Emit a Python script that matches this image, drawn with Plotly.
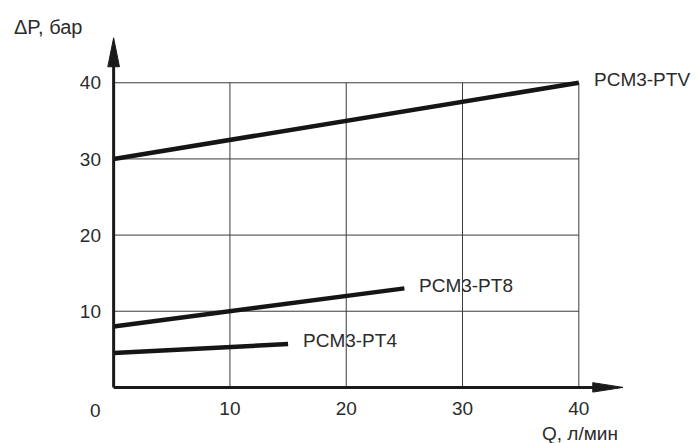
import plotly.graph_objects as go

# Data
series_names = ["PCM3-PTV", "PCM3-PT8", "PCM3-PT4"]
series_q = [[0, 40], [0, 25], [0, 15]]
series_dp = [[30, 40], [8, 13], [4.5, 5.7]]
x_ticks = [10, 20, 30, 40]
y_ticks = [10, 20, 30, 40]
x_title = "Q, л/мин"
y_title = "ΔP, бар"

FONT = "Liberation Sans, Arial, sans-serif"
TXT = "#2b2b2b"
LINE = "#151515"
FS = 19

fig = go.Figure()
for name, q, dp in zip(series_names, series_q, series_dp):
    fig.add_trace(go.Scatter(x=q, y=dp, mode="lines", name=name,
                             line=dict(color=LINE, width=4.5),
                             showlegend=False, hoverinfo="skip"))

shapes = []
gmax_x = max(x_ticks)
gmax_y = max(y_ticks)
for xv in x_ticks:
    shapes.append(dict(type="line", xref="x", yref="y", x0=xv, x1=xv, y0=0, y1=gmax_y,
                       line=dict(color="#3a3a3a", width=1), layer="below"))
for yv in y_ticks:
    shapes.append(dict(type="line", xref="x", yref="y", x0=0, x1=gmax_x, y0=yv, y1=yv,
                       line=dict(color="#3a3a3a", width=1), layer="below"))
# axes
shapes.append(dict(type="line", xref="x", yref="y", x0=0, x1=41.5, y0=0, y1=0,
                   line=dict(color="#1a1a1a", width=3)))
shapes.append(dict(type="line", xref="x", yref="y", x0=0, x1=0, y0=0, y1=42.5,
                   line=dict(color="#1a1a1a", width=3)))
# arrowheads
shapes.append(dict(type="path", xref="x", yref="y",
                   path="M 41.2 -0.62 L 43.8 0 L 41.2 0.62 Z",
                   fillcolor="#1a1a1a", line=dict(color="#1a1a1a", width=1)))
shapes.append(dict(type="path", xref="x", yref="y",
                   path="M -0.5 42.1 L 0 45.9 L 0.5 42.1 Z",
                   fillcolor="#1a1a1a", line=dict(color="#1a1a1a", width=1)))

annotations = []
for name, q, dp in zip(series_names, series_q, series_dp):
    annotations.append(dict(x=q[-1], y=dp[-1], xref="x", yref="y", text=name,
                            showarrow=False, xanchor="left", yanchor="middle",
                            xshift=13, yshift=3,
                            font=dict(family=FONT, size=FS, color=TXT)))
annotations.append(dict(x=-0.1673, y=1.008, xref="paper", yref="paper", text=y_title,
                        showarrow=False, xanchor="left", yanchor="middle",
                        font=dict(family=FONT, size=FS + 1, color=TXT)))
annotations.append(dict(x=0.8885, y=-0.1055, xref="paper", yref="paper", text=x_title,
                        showarrow=False, xanchor="center", yanchor="middle",
                        font=dict(family=FONT, size=FS, color=TXT)))
annotations.append(dict(x=-0.013, y=-0.043, xref="paper", yref="paper", text="0",
                        showarrow=False, xanchor="center", yanchor="middle",
                        font=dict(family=FONT, size=FS, color=TXT)))

fig.update_layout(
    width=696, height=443,
    margin=dict(l=102, r=56, t=30, b=48),
    paper_bgcolor="white", plot_bgcolor="white",
    xaxis=dict(range=[-1, 45.26], tickvals=x_ticks, ticktext=[str(v) for v in x_ticks],
               showgrid=False, zeroline=False, showline=False, ticks="",
               tickfont=dict(family=FONT, size=FS, color=TXT)),
    yaxis=dict(range=[-1, 46.93], tickvals=y_ticks, ticktext=[str(v) for v in y_ticks],
               showgrid=False, zeroline=False, showline=False, ticks="",
               tickfont=dict(family=FONT, size=FS, color=TXT)),
    shapes=shapes, annotations=annotations,
)

fig.write_html("out.html")
